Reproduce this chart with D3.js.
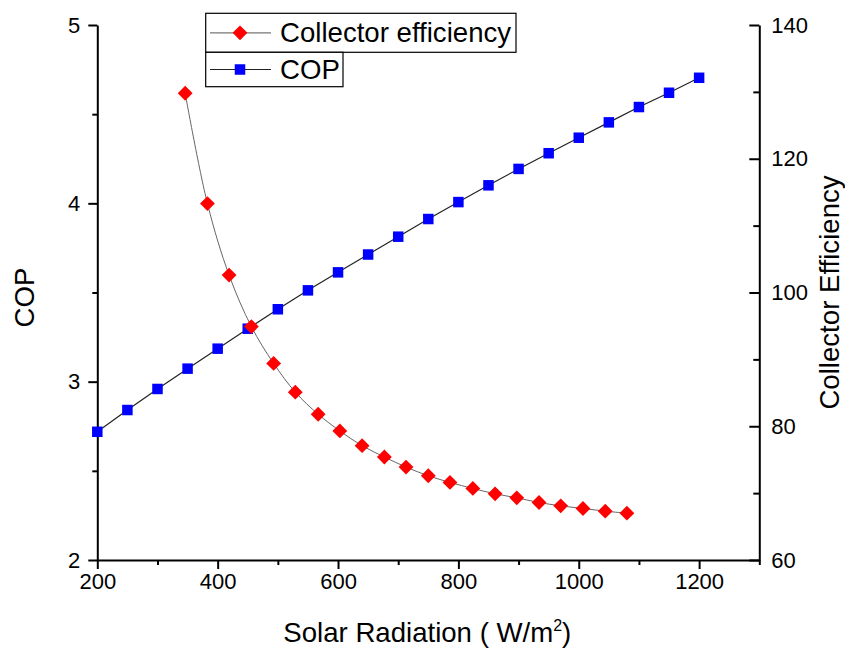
<!DOCTYPE html>
<html>
<head>
<meta charset="utf-8">
<script src="https://cdn.jsdelivr.net/npm/d3@7"></script>
<style>
  html, body { margin: 0; padding: 0; background: #fff; }
  svg text { font-family: "Liberation Sans", Arial, sans-serif; fill: #000; }
</style>
</head>
<body>
<svg id="chart" width="845" height="648"></svg>
<script>
// Solar radiation (W/m²) for the COP series
const copRadiation = [200, 250, 300, 350, 400, 450, 500, 550, 600, 650, 700,
                      750, 800, 850, 900, 950, 1000, 1050, 1100, 1150, 1200];
const copValues = [2.719, 2.841, 2.959, 3.073, 3.185, 3.297, 3.406, 3.512, 3.613, 3.713, 3.813,
                   3.912, 4.007, 4.101, 4.193, 4.281, 4.368, 4.454, 4.540, 4.620, 4.704];

// Solar radiation (W/m²) for the collector efficiency series
const effRadiation = [346, 383, 419, 456, 493, 529, 567, 603, 640, 677, 713,
                      750, 786, 824, 861, 897, 934, 970, 1007, 1044, 1080];
const effValues = [129.8, 113.3, 102.6, 94.9, 89.4, 85.1, 81.8, 79.3, 77.1, 75.4, 73.9,
                   72.6, 71.6, 70.7, 69.9, 69.3, 68.6, 68.1, 67.7, 67.3, 67.0];

// Axis ticks
const xTicks = [200, 400, 600, 800, 1000, 1200];
const xMinorTicks = [300, 500, 700, 900, 1100, 1300];
const copTicks = [2, 3, 4, 5];
const copMinorTicks = [2.5, 3.5, 4.5];
const effTicks = [60, 80, 100, 120, 140];
const effMinorTicks = [70, 90, 110, 130];

const seriesNames = ["Collector efficiency", "COP"];

const svg = d3.select("#chart");
const plot = { left: 97.3, right: 759.3, top: 25, bottom: 560 };

const x = d3.scaleLinear().domain([200, 1300]).range([plot.left, plot.right]);
const yCop = d3.scaleLinear().domain([2, 5]).range([plot.bottom, plot.top]);
const yEff = d3.scaleLinear().domain([60, 140]).range([plot.bottom, plot.top]);

// ---- axes ----
function styleAxis(g, fontSize) {
  g.selectAll(".domain").attr("stroke", "#000").attr("stroke-width", 2);
  g.selectAll(".tick line").attr("stroke", "#000").attr("stroke-width", 2);
  g.selectAll("text").attr("font-size", fontSize).attr("fill", "#000")
    .attr("font-family", '"Liberation Sans", Arial, sans-serif');
}

// bottom axis
const gx = svg.append("g").attr("transform", `translate(0,${plot.bottom})`)
  .call(d3.axisBottom(x).tickValues(xTicks).tickSizeInner(9).tickSizeOuter(0).tickPadding(4).tickFormat(d3.format("d")));
styleAxis(gx, 22);
const gxm = svg.append("g").attr("transform", `translate(0,${plot.bottom})`)
  .call(d3.axisBottom(x).tickValues(xMinorTicks).tickSize(5).tickFormat(""));
styleAxis(gxm, 22);
gxm.select(".domain").remove();

// left axis (COP)
const gl = svg.append("g").attr("transform", `translate(${plot.left},0)`)
  .call(d3.axisLeft(yCop).tickValues(copTicks).tickSizeInner(9).tickSizeOuter(0).tickPadding(8).tickFormat(d3.format("d")));
styleAxis(gl, 22);
const glm = svg.append("g").attr("transform", `translate(${plot.left},0)`)
  .call(d3.axisLeft(yCop).tickValues(copMinorTicks).tickSize(5).tickFormat(""));
styleAxis(glm, 22);
glm.select(".domain").remove();

// right axis (collector efficiency), ticks pointing inward
const gr = svg.append("g").attr("transform", `translate(${plot.right},0)`)
  .call(d3.axisRight(yEff).tickValues(effTicks).tickSizeInner(-10).tickSizeOuter(0).tickPadding(12).tickFormat(d3.format("d")));
styleAxis(gr, 22);
const grm = svg.append("g").attr("transform", `translate(${plot.right},0)`)
  .call(d3.axisRight(yEff).tickValues(effMinorTicks).tickSize(-6).tickFormat(""));
styleAxis(grm, 22);
grm.select(".domain").remove();

// axis titles
const xTitle = svg.append("text")
  .attr("x", (plot.left + plot.right) / 2 - 1).attr("y", 642)
  .attr("text-anchor", "middle").attr("font-size", 27.6);
xTitle.append("tspan").text("Solar Radiation ( W/m");
xTitle.append("tspan").attr("font-size", 16).attr("dy", -11).text("2");
xTitle.append("tspan").attr("dy", 11).text(")");

svg.append("text")
  .attr("transform", `translate(34,${(plot.top + plot.bottom) / 2 + 5}) rotate(-90)`)
  .attr("text-anchor", "middle").attr("font-size", 27.6).text("COP");

svg.append("text")
  .attr("transform", `translate(839,${(plot.top + plot.bottom) / 2}) rotate(-90)`)
  .attr("text-anchor", "middle").attr("font-size", 27.6).text("Collector Efficiency");

// ---- series ----
const copData = copRadiation.map((r, i) => ({ x: r, y: copValues[i] }));
const effData = effRadiation.map((r, i) => ({ x: r, y: effValues[i] }));

svg.append("path").datum(copData)
  .attr("fill", "none").attr("stroke", "#222").attr("stroke-width", 1.2)
  .attr("d", d3.line().x(d => x(d.x)).y(d => yCop(d.y)));

svg.append("path").datum(effData)
  .attr("fill", "none").attr("stroke", "#666").attr("stroke-width", 1)
  .attr("d", d3.line().curve(d3.curveCatmullRom).x(d => x(d.x)).y(d => yEff(d.y)));

const sq = 10.5;
svg.append("g").selectAll("rect").data(copData).join("rect")
  .attr("x", d => x(d.x) - sq / 2).attr("y", d => yCop(d.y) - sq / 2)
  .attr("width", sq).attr("height", sq).attr("fill", "#0000ff");

// diamonds: squares rotated 45°
const diamondPath = d3.symbol().type(d3.symbolSquare).size(110);
svg.append("g").selectAll("path").data(effData).join("path")
  .attr("transform", d => `translate(${x(d.x)},${yEff(d.y)}) rotate(45)`)
  .attr("d", diamondPath)
  .attr("fill", "#ff0000");

// ---- legend ----
const legend = svg.append("g");
const rows = [
  { name: seriesNames[0], x0: 205.7, x1: 516, y0: 13.3, y1: 52.3, line: "#777", kind: "diamond" },
  { name: seriesNames[1], x0: 205.7, x1: 343, y0: 52.3, y1: 86.7, line: "#222", kind: "square" }
];
rows.forEach(r => {
  const cy = (r.y0 + r.y1) / 2;
  legend.append("rect")
    .attr("x", r.x0).attr("y", r.y0).attr("width", r.x1 - r.x0).attr("height", r.y1 - r.y0)
    .attr("fill", "#fff").attr("stroke", "#000").attr("stroke-width", 1.2);
  legend.append("line")
    .attr("x1", 210).attr("x2", 271).attr("y1", cy).attr("y2", cy)
    .attr("stroke", r.line).attr("stroke-width", 1.2);
  if (r.kind === "diamond") {
    legend.append("path")
      .attr("transform", `translate(240,${cy}) rotate(45)`)
      .attr("d", diamondPath)
      .attr("fill", "#ff0000");
  } else {
    legend.append("rect")
      .attr("x", 240 - sq / 2).attr("y", cy - sq / 2).attr("width", sq).attr("height", sq)
      .attr("fill", "#0000ff");
  }
  legend.append("text")
    .attr("x", 280).attr("y", cy + 9.5).attr("font-size", 27.6).text(r.name);
});
</script>
</body>
</html>
